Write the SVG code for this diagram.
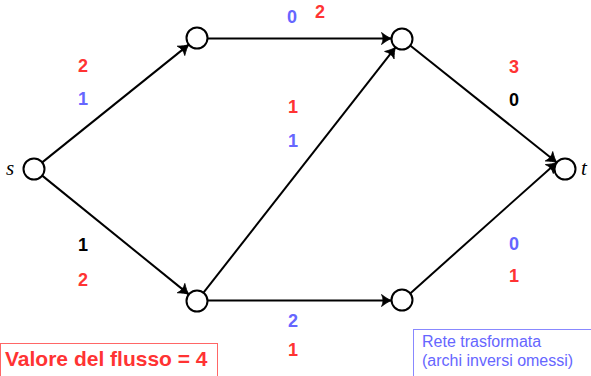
<svg xmlns="http://www.w3.org/2000/svg" width="591" height="376" viewBox="0 0 591 376">
<style>
.node{fill:#fff;stroke:#000;stroke-width:2}
.edge{stroke:#000;stroke-width:2;fill:none;marker-end:url(#arr)}
.lab{font-family:"Liberation Sans",Arial,sans-serif;font-weight:bold;font-size:18px;text-anchor:middle}
.r{fill:#ff3333}.b{fill:#6666ff}.k{fill:#000}
.nl{font-family:"Liberation Serif","Times New Roman",serif;font-style:italic;font-size:21px}
</style>
<defs>
<marker id="arr" markerUnits="userSpaceOnUse" markerWidth="14" markerHeight="14" viewBox="-11 -7 13 14" refX="0" refY="0" orient="auto" overflow="visible">
<path d="M0,0 C-3,-1 -6,-3 -10,-6 C-8,-2 -8,2 -10,6 C-6,3 -3,1 0,0 Z" fill="#000" stroke="#000" stroke-width="0.8" stroke-linejoin="round"/>
</marker>
</defs>
<g id="connectors">
<line class="edge" x1="42.2" y1="162.4" x2="188.8" y2="44.6"/>
<line class="edge" x1="42.2" y1="175.6" x2="188.8" y2="294.4"/>
<line class="edge" x1="207.5" y1="38.5" x2="391.5" y2="38.5"/>
<line class="edge" x1="203.5" y1="292.7" x2="395.5" y2="47.3"/>
<line class="edge" x1="207.5" y1="300.5" x2="391.5" y2="300.5"/>
<line class="edge" x1="410.2" y1="45.5" x2="556.8" y2="162.5"/>
<line class="edge" x1="410.2" y1="293.4" x2="556.8" y2="162.4"/>
</g>
<g id="node-s"><circle class="node" cx="34" cy="169" r="10.5"/><text class="nl" x="6" y="175">s</text></g>
<g id="node-a"><circle class="node" cx="197" cy="38" r="10.5"/></g>
<g id="node-b"><circle class="node" cx="402" cy="39" r="10.5"/></g>
<g id="node-c"><circle class="node" cx="197" cy="301" r="10.5"/></g>
<g id="node-d"><circle class="node" cx="402" cy="300" r="10.5"/></g>
<g id="node-t"><circle class="node" cx="565" cy="169" r="10.5"/><text class="nl" x="581" y="175">t</text></g>
<g id="labels">
<text class="lab r" x="83" y="72">2</text>
<text class="lab b" x="83" y="105">1</text>
<text class="lab b" x="292" y="23">0</text>
<text class="lab r" x="320" y="18">2</text>
<text class="lab r" x="293" y="113">1</text>
<text class="lab b" x="293" y="147">1</text>
<text class="lab r" x="514" y="73">3</text>
<text class="lab k" x="514" y="106">0</text>
<text class="lab k" x="83" y="251">1</text>
<text class="lab r" x="83" y="286">2</text>
<text class="lab b" x="514" y="250">0</text>
<text class="lab r" x="514" y="282">1</text>
<text class="lab b" x="293" y="327">2</text>
<text class="lab r" x="293" y="356">1</text>
</g>
<g id="box-flow">
<rect x="0.5" y="343.5" width="217" height="40" fill="none" stroke="#ff6666" stroke-width="1"/>
<text x="5" y="366" font-family="Liberation Sans, Arial, sans-serif" font-weight="bold" font-size="21" fill="#ff3333">Valore del flusso = 4</text>
</g>
<g id="box-note">
<rect x="413.5" y="329.5" width="185" height="50" fill="none" stroke="#8888ff" stroke-width="1"/>
<text font-family="Liberation Sans, Arial, sans-serif" font-size="16" fill="#6666ff"><tspan x="422" y="347">Rete trasformata</tspan><tspan x="422" y="366">(archi inversi omessi)</tspan></text>
</g>
</svg>
